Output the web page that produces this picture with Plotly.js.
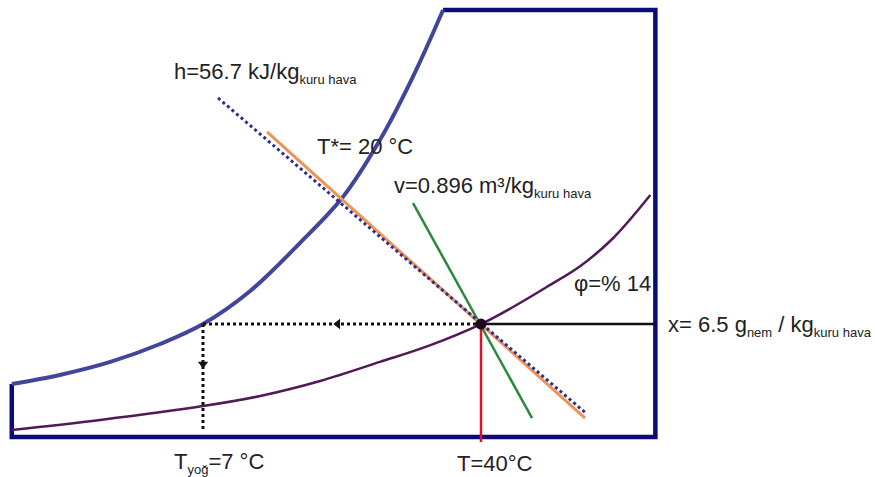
<!DOCTYPE html>
<html>
<head>
<meta charset="utf-8">
<script src="https://cdn.plot.ly/plotly-3.0.1.min.js"></script>
<style>html,body{margin:0;padding:0;background:#fff;}#chart{width:875px;height:477px;}</style>
</head>
<body>
<div id="chart"></div>
<script>
// Temperature (°C) and humidity ratio (g/kg dry air) of each drawn element
var satT = [-15.7, -10.0, -4.0, 1.9, 7.0, 12.6, 18.5, 23.6, 28.0, 31.9, 35.5];
var satW = [3.05, 3.57, 4.32, 5.35, 6.5, 8.40, 11.16, 13.81, 17.09, 20.71, 24.57];

var phiT = [-15.7, -5.2, 7.0, 13.8, 20.9, 28.0, 34.0, 40.0, 43.8, 47.8, 51.8, 55.7, 60.1];
var phiW = [0.40, 0.98, 1.78, 2.36, 3.22, 4.32, 5.29, 6.5, 7.48, 8.63, 9.84, 11.45, 13.92];

var boxT = [-15.7, -15.7, 60.7, 60.7, 35.5];
var boxW = [3.05, 0, 0, 24.57, 24.57];

var wetT = [14.6, 52.35];   // T* = 20 °C line
var wetW = [17.55, 1.09];
var enthT = [8.78, 52.58];  // h = 56.7 kJ/kg line
var enthW = [19.51, 1.32];
var volT = [31.93, 46.06];  // v = 0.896 m3/kg line
var volW = [13.46, 1.09];

var stateT = 40, stateW = 6.5;   // state point
var dewT = 7;                    // dew point temperature
var tempLineW = [6.5, -0.29];
var humRightT = [40, 60.7];
var dewLineT = [7, 40];
var dewDropW = [6.5, 0.29];
var arrowLeftT = 23.0;
var arrowDownW = 4.2;

var S = '<span style="font-size:13px">';
var labels = {
  h: "h=56.7 kJ/kg<sub>" + S + "kuru hava</span></sub>",
  ts: "T*= 20 °C",
  v: "v=0.896 m³/kg<sub>" + S + "kuru hava</span></sub>",
  phi: "φ=% 14",
  x: "x= 6.5 g<sub>" + S + "nem</span></sub> / kg<sub>" + S + "kuru hava</span></sub>",
  tdew: "T<sub>" + S + "yoğ</span></sub>=7 °C",
  t: "T=40°C"
};

var traces = [
  {x: boxT, y: boxW, mode: 'lines', line: {color: '#0c0c78', width: 4.5}},
  {x: satT, y: satW, mode: 'lines', line: {color: '#41469a', width: 4, shape: 'spline', smoothing: 1}},
  {x: phiT, y: phiW, mode: 'lines', line: {color: '#501a57', width: 2.5, shape: 'spline'}},
  {x: dewLineT, y: [stateW, stateW], mode: 'lines', line: {color: '#111', width: 3, dash: 'dot'}},
  {x: [dewT, dewT], y: dewDropW, mode: 'lines', line: {color: '#111', width: 3, dash: 'dot'}},
  {x: humRightT, y: [stateW, stateW], mode: 'lines', line: {color: '#111', width: 2.5}},
  {x: [stateT, stateT], y: tempLineW, mode: 'lines', line: {color: '#e0102a', width: 2.5}},
  {x: volT, y: volW, mode: 'lines', line: {color: '#2b8a3a', width: 2.5}},
  {x: wetT, y: wetW, mode: 'lines', line: {color: '#ee9356', width: 3}},
  {x: enthT, y: enthW, mode: 'lines', line: {color: '#2e2e8c', width: 3, dash: 'dot'}},
  {x: [arrowLeftT], y: [stateW], mode: 'markers', marker: {symbol: 'triangle-left', size: 9, color: '#111'}},
  {x: [dewT], y: [arrowDownW], mode: 'markers', marker: {symbol: 'triangle-down', size: 9, color: '#111'}},
  {x: [stateT], y: [stateW], mode: 'markers', marker: {symbol: 'circle', size: 11, color: '#1e0a1e'}}
];

var F = {family: 'Liberation Sans, Arial, sans-serif', size: 22, color: '#222'};
function ann(text, x, y) {
  return {text: text, x: x, y: y, xref: 'x', yref: 'y', xanchor: 'left', yanchor: 'middle', showarrow: false, font: F};
}

var layout = {
  width: 875, height: 477,
  margin: {l: 0, r: 0, t: 0, b: 0},
  paper_bgcolor: '#fff', plot_bgcolor: '#fff',
  showlegend: false,
  xaxis: {range: [-17.098, 86.77], visible: false, fixedrange: true},
  yaxis: {range: [-2.301, 25.144], visible: false, fixedrange: true},
  annotations: [
    ann(labels.h, 3.32, 20.94),
    ann(labels.ts, 20.3, 16.69),
    ann(labels.v, 29.44, 14.38),
    ann(labels.phi, 50.8, 8.86),
    ann(labels.x, 61.96, 6.39),
    ann(labels.tdew, 3.32, -1.5),
    ann(labels.t, 36.91, -1.5)
  ]
};

Plotly.newPlot('chart', traces, layout, {displayModeBar: false, staticPlot: true});
</script>
</body>
</html>
